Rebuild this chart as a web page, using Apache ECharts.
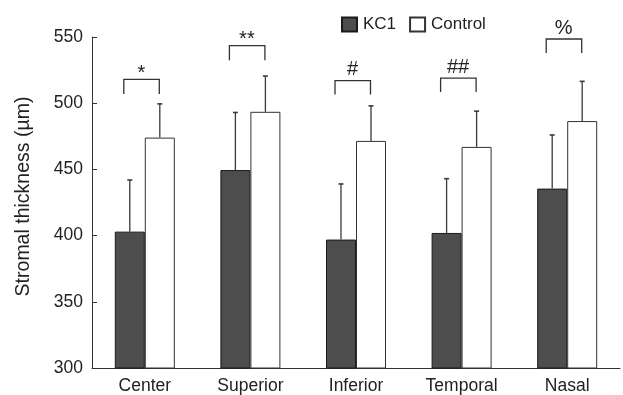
<!DOCTYPE html>
<html>
<head>
<meta charset="utf-8">
<script src="https://cdn.jsdelivr.net/npm/echarts@6/dist/echarts.min.js"></script>
<style>
  html, body { margin: 0; padding: 0; background: #fff; }
  #chart { width: 623px; height: 395px; }
</style>
</head>
<body>
<div id="chart"></div>
<script>
// Regions of the cornea
const categories = ['Center', 'Superior', 'Inferior', 'Temporal', 'Nasal'];

// Mean stromal thickness (µm)
const kc1Mean = [403, 449.5, 397, 402, 435.5];
const controlMean = [474, 493.5, 471.5, 467, 486.5];

// Mean + SD (upper end of error bars)
const kc1Upper = [442, 493, 439, 443, 476];
const controlUpper = [499.5, 520.5, 498, 494, 516.5];

// Significance brackets: top of bracket, bottom of its legs, label
const bracketTop = [518, 543.5, 517, 519, 548.5];
const bracketLegEnd = [507, 532.5, 506.5, 508.5, 538];
const bracketLabels = ['*', '**', '#', '##', '%'];

// Axis ticks
const yMin = 300, yMax = 550, yStep = 50;

const FONT = 'Liberation Sans, Arial, Helvetica, sans-serif';
const BAR_W = 30;

function errorSeries(name, means, uppers, offset) {
  return {
    type: 'custom',
    name: name + ' SD',
    z: 5,
    data: means.map((m, i) => [i, m, uppers[i]]),
    renderItem: function (params, api) {
      const base = api.coord([api.value(0), api.value(1)]);
      const top = api.coord([api.value(0), api.value(2)]);
      const x = base[0] + offset;
      return {
        type: 'group',
        children: [
          { type: 'line', shape: { x1: x, y1: base[1], x2: x, y2: top[1] },
            style: { stroke: '#3a3a3a', lineWidth: 1.3 } },
          { type: 'line', shape: { x1: x - 2.5, y1: top[1], x2: x + 2.5, y2: top[1] },
            style: { stroke: '#3a3a3a', lineWidth: 1.6 } }
        ]
      };
    }
  };
}

const chart = echarts.init(document.getElementById('chart'));
chart.setOption({
  animation: false,
  backgroundColor: '#fff',
  grid: { left: 92, right: 3, top: 37, bottom: 26 },
  legend: {
    left: 341, top: 16, padding: 0,
    itemWidth: 15, itemHeight: 14, itemGap: 13,
    icon: 'rect',
    data: ['KC1', 'Control'],
    textStyle: { fontFamily: FONT, fontSize: 17, color: '#222', padding: [0, 0, 0, 1] }
  },
  xAxis: {
    type: 'category',
    data: categories,
    axisLine: { lineStyle: { color: '#333', width: 1 } },
    axisTick: { show: false },
    axisLabel: { fontFamily: FONT, fontSize: 17.5, color: '#222', margin: 9 }
  },
  yAxis: {
    type: 'value',
    min: yMin, max: yMax, interval: yStep,
    name: 'Stromal thickness (µm)',
    nameLocation: 'middle',
    nameGap: 58,
    nameTextStyle: { fontFamily: FONT, fontSize: 19.5, color: '#222', padding: [0, 0, 0, 12] },
    axisLine: { show: true, lineStyle: { color: '#333', width: 1 } },
    axisTick: { show: true, inside: true, length: 5, lineStyle: { color: '#333' } },
    axisLabel: { fontFamily: FONT, fontSize: 17.5, color: '#222', margin: 9 },
    splitLine: { show: false }
  },
  series: [
    {
      name: 'KC1', type: 'bar', data: kc1Mean,
      barWidth: BAR_W, barGap: '0%',
      itemStyle: { color: '#4d4d4d', borderColor: '#1a1a1a', borderWidth: 1 }
    },
    {
      name: 'Control', type: 'bar', data: controlMean,
      barWidth: BAR_W,
      itemStyle: { color: '#fff', borderColor: '#333', borderWidth: 1 }
    },
    errorSeries('KC1', kc1Mean, kc1Upper, -BAR_W / 2),
    errorSeries('Control', controlMean, controlUpper, BAR_W / 2),
    {
      type: 'custom',
      name: 'significance',
      z: 6,
      data: categories.map((c, i) => [i, bracketTop[i], bracketLegEnd[i]]),
      renderItem: function (params, api) {
        const i = api.value(0);
        const t = api.coord([i, api.value(1)]);
        const b = api.coord([i, api.value(2)]);
        const xl = t[0] - 21, xr = t[0] + 14.5;
        const label = bracketLabels[i];
        // asterisks sit high in the glyph box, so nudge them down toward the bracket
        const dy = label.indexOf('*') >= 0 ? 5 : 0;
        return {
          type: 'group',
          children: [
            { type: 'polyline',
              shape: { points: [[xl, b[1]], [xl, t[1]], [xr, t[1]], [xr, b[1]]] },
              style: { stroke: '#333', lineWidth: 1.3, fill: null } },
            { type: 'text',
              style: { x: t[0] - 3.5, y: t[1] - 1 + dy, text: label,
                       fontFamily: FONT, fontSize: 20, fill: '#222',
                       align: 'center', verticalAlign: 'bottom' } }
          ]
        };
      }
    }
  ]
});
</script>
</body>
</html>
